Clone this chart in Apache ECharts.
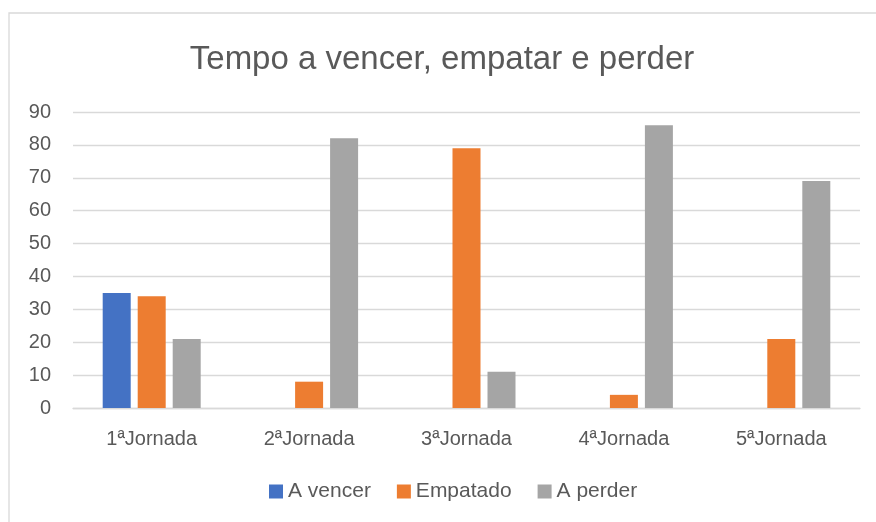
<!DOCTYPE html>
<html>
<head>
<meta charset="utf-8">
<script src="https://cdn.jsdelivr.net/npm/echarts@6/dist/echarts.min.js"></script>
<style>
  html, body { margin: 0; padding: 0; background: #fff; }
  #chart { width: 876px; height: 522px; }
</style>
</head>
<body>
<div id="chart"></div>
<script>
// dados
var jornadas = ['1ªJornada', '2ªJornada', '3ªJornada', '4ªJornada', '5ªJornada'];
var aVencer = [35, null, null, null, null];
var empatado = [34, 8, 79, 4, 21];
var aPerder = [21, 82, 11, 86, 69];
var yTicks = [0, 10, 20, 30, 40, 50, 60, 70, 80, 90];

var textColor = '#595959';
var fontFam = '"Liberation Sans", Arial, sans-serif';

var myChart = echarts.init(document.getElementById('chart'));
var option = {
    animation: false,
    title: {
        text: 'Tempo a vencer, empatar e perder',
        left: 437,
        textAlign: 'center',
        top: 38,
        textStyle: { color: textColor, fontSize: 33, fontWeight: 'normal', fontFamily: fontFam }
    },
    graphic: [{
        type: 'rect',
        shape: { x: 9, y: 13, width: 900, height: 540 },
        style: { fill: 'none', stroke: '#d9d9d9', lineWidth: 1.3 },
        silent: true
    }],
    legend: {
        bottom: 15,
        left: 264,
        itemWidth: 14,
        itemHeight: 14,
        itemGap: 26,
        icon: 'rect',
        textStyle: { color: textColor, fontSize: 21, fontFamily: fontFam },
        data: ['A vencer', 'Empatado', 'A perder']
    },
    grid: {
        left: 73,
        right: 16,
        top: 112,
        bottom: 114
    },
    xAxis: {
        type: 'category',
        data: jornadas,
        axisLine: { lineStyle: { color: '#d9d9d9', width: 1.3 } },
        axisTick: { show: false },
        axisLabel: { color: textColor, fontSize: 20, fontFamily: fontFam, margin: 21 }
    },
    yAxis: {
        type: 'value',
        min: yTicks[0],
        max: yTicks[yTicks.length - 1],
        interval: 10,
        axisLine: { show: false },
        axisTick: { show: false },
        axisLabel: { color: textColor, fontSize: 20, fontFamily: fontFam, margin: 22 },
        splitLine: { lineStyle: { color: '#d9d9d9', width: 1.3 } }
    },
    series: [
        {
            name: 'A vencer',
            type: 'bar',
            barWidth: 28,
            barGap: '25%',
            itemStyle: { color: '#4472C4' },
            data: aVencer
        },
        {
            name: 'Empatado',
            type: 'bar',
            barWidth: 28,
            barGap: '25%',
            itemStyle: { color: '#ED7D31' },
            data: empatado
        },
        {
            name: 'A perder',
            type: 'bar',
            barWidth: 28,
            barGap: '25%',
            itemStyle: { color: '#A5A5A5' },
            data: aPerder
        }
    ]
};
myChart.setOption(option);
</script>
</body>
</html>
